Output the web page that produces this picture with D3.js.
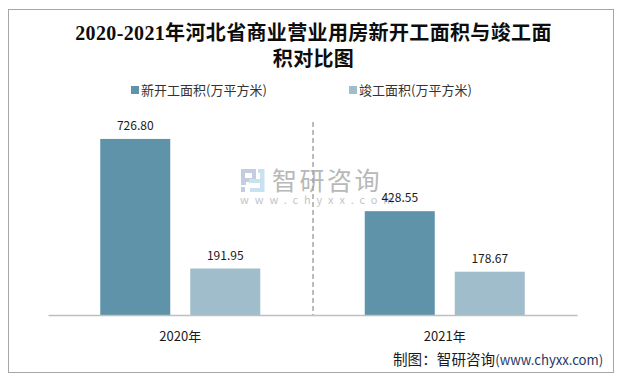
<!DOCTYPE html>
<html lang="zh">
<head>
<meta charset="UTF-8">
<title>2020-2021年河北省商业营业用房新开工面积与竣工面积对比图</title>
<script src="https://d3js.org/d3.v7.min.js"></script>
<style>
    html, body { margin: 0; padding: 0; background: #fff; }
    svg { display: block; }
    text { font-family: "Noto Sans CJK SC", "Noto Sans", sans-serif; }
</style>
</head>
<body>
<svg id="chart"></svg>
<script>
const categories = ['2020年', '2021年'];
const seriesNames = ['新开工面积(万平方米)', '竣工面积(万平方米)'];
const newStart = [726.80, 428.55];
const completed = [191.95, 178.67];
const seriesColors = ['#5e93aa', '#9fbdcb'];
const titleLines = ['2020-2021年河北省商业营业用房新开工面积与竣工面', '积对比图'];

const width = 621, height = 376;
const svg = d3.select('#chart').attr('width', width).attr('height', height);

// outer frame
svg.append('rect')
    .attr('x', 8.5).attr('y', 9.5).attr('width', 605).attr('height', 363)
    .attr('fill', '#fff').attr('stroke', '#a6a6a6').attr('stroke-width', 1);

const left = 48, right = 577, baseline = 315;

const x0 = d3.scaleBand().domain(categories).range([left, right]);
const x1 = d3.scaleBand().domain([0, 1]).range([-80, 80]).paddingInner(2 / 9);
const y = d3.scaleLinear().domain([0, 800]).range([baseline, baseline - 193.8]);

// title
svg.append('g').selectAll('text').data(titleLines).enter().append('text')
    .attr('x', 313.5).attr('y', (d, i) => 40 + i * 26)
    .attr('text-anchor', 'middle')
    .style('font-family', '"Liberation Serif", "Noto Sans CJK SC", serif')
    .style('font-size', '20px').style('font-weight', 'bold')
    .style('letter-spacing', '0.35px')
    .attr('fill', '#0d0d0d')
    .text(d => d);

// legend
const legendX = [131, 349];
const legend = svg.append('g').selectAll('g').data(seriesNames).enter().append('g')
    .attr('transform', (d, i) => `translate(${legendX[i]},86)`);
legend.append('rect').attr('width', 8).attr('height', 8).attr('fill', (d, i) => seriesColors[i]);
legend.append('text').attr('x', 10).attr('y', 9)
    .style('font-size', '13px').attr('fill', '#333').text(d => d);

// watermark
const mark = svg.append('g');
mark.append('path')
    .attr('fill-rule', 'evenodd')
    .attr('d', 'M241 169H256V182H246V185H241ZM245 173V178H252V173ZM241 187H245V192H241Z')
    .attr('fill', '#c3cde0');
mark.append('path')
    .attr('d', 'M258 169H264.5V192H250V188H260V183H249V179H260V173H258Z')
    .attr('fill', '#c9e2f1');
mark.append('text').attr('x', 272).attr('y', 190)
    .style('font-size', '25px').style('letter-spacing', '2.5px').attr('fill', '#b8b8b8').text('智研咨询');
mark.append('text').attr('x', 240).attr('y', 204)
    .style('font-size', '11px').style('letter-spacing', '5.9px').attr('fill', '#c4c4c4').text('www.chyxx.com');

// dashed divider between the categories
svg.append('line')
    .attr('x1', x0('2021年') + 0.5).attr('x2', x0('2021年') + 0.5)
    .attr('y1', 122).attr('y2', baseline)
    .attr('stroke', '#a6a6a6').attr('stroke-width', 1.5).attr('stroke-dasharray', '5 3');

// bars
const series = [newStart, completed];
series.forEach((values, s) => {
    const center = c => x0(c) + x0.bandwidth() / 2 + x1(s);
    svg.append('g').selectAll('rect').data(values).enter().append('rect')
        .attr('x', (d, i) => center(categories[i]))
        .attr('y', d => y(d))
        .attr('width', x1.bandwidth())
        .attr('height', d => baseline - y(d))
        .attr('fill', seriesColors[s]);
    svg.append('g').selectAll('text').data(values).enter().append('text')
        .attr('x', (d, i) => center(categories[i]) + x1.bandwidth() / 2)
        .attr('y', d => y(d) - 9)
        .attr('text-anchor', 'middle')
        .style('font-size', '12px').attr('fill', '#1a1a1a')
        .text(d => d.toFixed(2));
});

// x axis
const axis = svg.append('g')
    .attr('transform', `translate(0,${baseline})`)
    .call(d3.axisBottom(x0).tickSize(0).tickPadding(17));
axis.select('.domain').attr('stroke', '#bfbfbf').attr('stroke-width', 1.5);
axis.selectAll('text')
    .style('font-size', '13px')
    .style('font-family', '"Noto Sans CJK SC", sans-serif')
    .attr('fill', '#1a1a1a');

// source note
const note = svg.append('text').attr('x', 393).attr('y', 365);
note.append('tspan').attr('fill', '#1a1a1a').style('font-size', '14.6px').text('制图：智研咨询');
note.append('tspan').attr('fill', '#1f3864').style('font-size', '13.2px').text('(www.chyxx.com)');
</script>
</body>
</html>
